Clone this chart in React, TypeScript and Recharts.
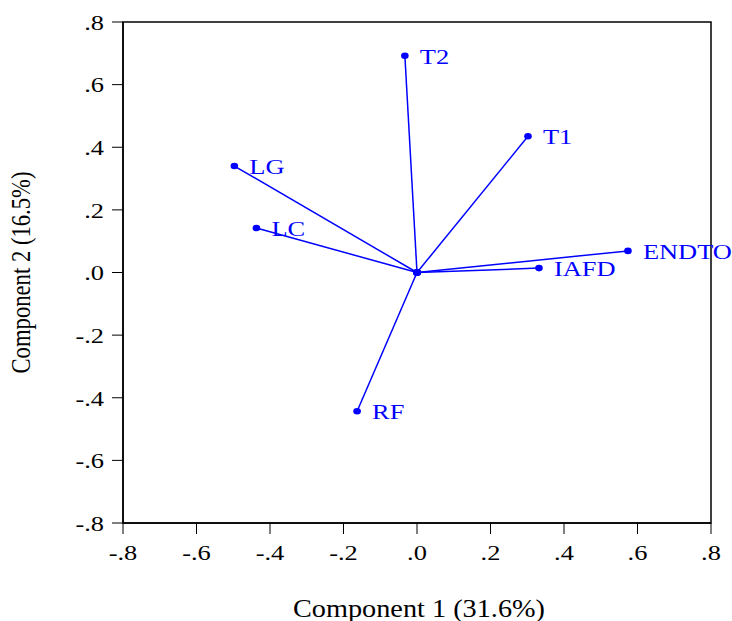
import React from "react";
import {
  ScatterChart,
  Scatter,
  XAxis,
  YAxis,
  ReferenceArea,
} from "recharts";

const variableNames = ["T2", "T1", "LG", "LC", "ENDTO", "IAFD", "RF"];
const component1 = [-0.033, 0.302, -0.497, -0.437, 0.574, 0.332, -0.163];
const component2 = [0.692, 0.435, 0.34, 0.142, 0.069, 0.014, -0.443];
const axisTicks = [-0.8, -0.6, -0.4, -0.2, 0, 0.2, 0.4, 0.6, 0.8];
const xTitle = "Component 1 (31.6%)";
const yTitle = "Component 2 (16.5%)";

const BLUE = "#0000FF";
const FONT = "Liberation Serif";
const STRETCH = 1.2;

const fmt = (v: number) => {
  if (Math.abs(v) < 1e-9) return ".0";
  const s = Math.abs(v).toFixed(1).replace(/^0/, "");
  return (v < 0 ? "-" : "") + s;
};

const vectors = variableNames.map((name, i) => [
  { x: 0, y: 0, name: "" },
  { x: component1[i], y: component2[i], name },
]);

const DotShape = (props: any) => {
  const { cx, cy, payload } = props;
  if (cx == null || cy == null) return null;
  return (
    <g>
      <ellipse cx={cx} cy={cy} rx={3.8} ry={3.3} fill={BLUE} />
      {payload && payload.name ? (
        <text
          transform={`translate(${cx + 15}, ${cy}) scale(${STRETCH}, 1)`}
          x={0}
          y={0}
          dy="0.36em"
          fill={BLUE}
          style={{ fontFamily: FONT, fontSize: 22 }}
        >
          {payload.name}
        </text>
      ) : null}
    </g>
  );
};

const XTick = (props: any) => {
  const { x, y, payload } = props;
  return (
    <text
      transform={`translate(${x}, ${y}) scale(${STRETCH}, 1)`}
      x={0}
      y={0}
      dy="0.71em"
      textAnchor="middle"
      fill="#000"
      style={{ fontFamily: FONT, fontSize: 22 }}
    >
      {fmt(payload.value)}
    </text>
  );
};

const YTick = (props: any) => {
  const { x, y, payload } = props;
  return (
    <text
      transform={`translate(${x}, ${y}) scale(${STRETCH}, 1)`}
      x={0}
      y={0}
      dy="0.355em"
      textAnchor="end"
      fill="#000"
      style={{ fontFamily: FONT, fontSize: 22 }}
    >
      {fmt(payload.value)}
    </text>
  );
};

const XTitle = (props: any) => {
  const vb = props.viewBox || {};
  const cx = (vb.x || 0) + (vb.width || 0) / 2;
  return (
    <text
      x={cx + 2}
      y={617}
      textAnchor="middle"
      fill="#000"
      style={{ fontFamily: FONT, fontSize: 24.5 }}
      textLength={252}
      lengthAdjust="spacingAndGlyphs"
    >
      {xTitle}
    </text>
  );
};

const YTitle = (props: any) => {
  const vb = props.viewBox || {};
  const cy = (vb.y || 0) + (vb.height || 0) / 2;
  return (
    <text
      x={0}
      y={0}
      transform={`translate(30, ${cy}) rotate(-90) scale(1, ${STRETCH})`}
      textAnchor="middle"
      fill="#000"
      style={{ fontFamily: FONT, fontSize: 22 }}
      textLength={202}
      lengthAdjust="spacingAndGlyphs"
    >
      {yTitle}
    </text>
  );
};

export default function App() {
  return (
    <div
      style={{
        position: "absolute",
        left: 0,
        top: 0,
        background: "#fff",
        fontFamily: FONT,
      }}
    >
      <ScatterChart
        width={732}
        height={621}
        margin={{ top: 22, right: 21, left: 0, bottom: 0 }}
        style={{ fontFamily: FONT }}
      >
        <XAxis
          type="number"
          dataKey="x"
          domain={[-0.8, 0.8]}
          ticks={axisTicks}
          height={98}
          tickSize={11}
          tickMargin={10}
          axisLine={{ stroke: "#000", strokeWidth: 1.5 }}
          tickLine={{ stroke: "#000", strokeWidth: 1 }}
          tick={<XTick />}
          interval={0}
          label={<XTitle />}
        />
        <YAxis
          type="number"
          dataKey="y"
          domain={[-0.8, 0.8]}
          ticks={axisTicks}
          width={123}
          tickSize={11}
          tickMargin={8}
          axisLine={{ stroke: "#000", strokeWidth: 1.5 }}
          tickLine={{ stroke: "#000", strokeWidth: 1 }}
          tick={<YTick />}
          interval={0}
          label={<YTitle />}
        />
        <ReferenceArea
          x1={-0.8}
          x2={0.8}
          y1={-0.8}
          y2={0.8}
          fill="none"
          fillOpacity={0}
          stroke="#000"
          strokeWidth={1.5}
        />
        {vectors.map((data, i) => (
          <Scatter
            key={variableNames[i]}
            data={data}
            line={{ stroke: BLUE, strokeWidth: 1.5 }}
            shape={<DotShape />}
            fill={BLUE}
            isAnimationActive={false}
          />
        ))}
      </ScatterChart>
    </div>
  );
}
